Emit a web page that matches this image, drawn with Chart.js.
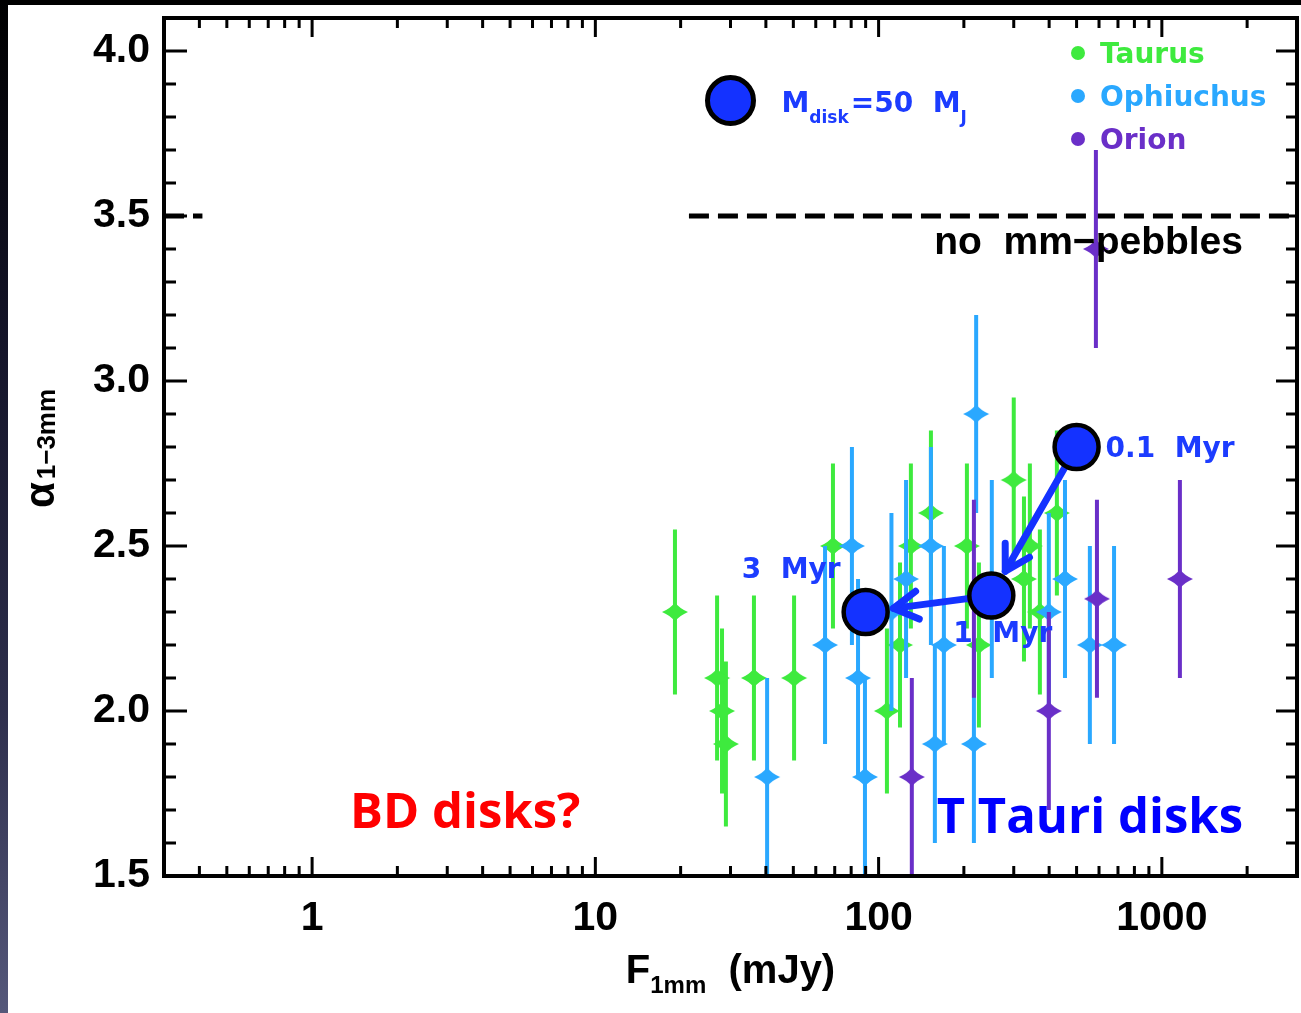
<!DOCTYPE html>
<html><head><meta charset="utf-8">
<script src="https://cdn.jsdelivr.net/npm/chart.js@4.4.0/dist/chart.umd.min.js"></script>
<style>
html,body{margin:0;padding:0;background:#fff;}
#wrap{position:relative;width:1301px;height:1013px;overflow:hidden;background:#fff;}
canvas{display:block;}
#topband{position:absolute;left:0;top:0;width:1301px;height:5px;background:#000;}
#leftband{position:absolute;left:0;top:0;width:8px;height:1013px;background:linear-gradient(#000 0%,#15152a 35%,#2e2f4c 70%,#55587a 100%);}
</style></head><body>
<div id="wrap"><canvas id="c" width="1301" height="1013"></canvas><div id="topband"></div><div id="leftband"></div></div>
<script>
// ---------- data ----------
const xTickValues = [1, 10, 100, 1000];
const yTickValues = [1.5, 2.0, 2.5, 3.0, 3.5, 4.0];

const taurusFlux  = [19.1, 26.9, 28.0, 28.9, 36.3, 50.3, 69.0, 107, 119, 130, 153, 205, 226, 300, 326, 342, 371, 426];
const taurusAlpha = [2.3, 2.1, 2.0, 1.9, 2.1, 2.1, 2.5, 2.0, 2.2, 2.5, 2.6, 2.5, 2.2, 2.7, 2.4, 2.5, 2.3, 2.6];
const taurusErr   = [0.25, 0.25, 0.25, 0.25, 0.25, 0.25, 0.25, 0.25, 0.25, 0.25, 0.25, 0.25, 0.25, 0.25, 0.25, 0.25, 0.25, 0.25];

const ophFlux  = [40.4, 64.7, 80.5, 84.6, 89.5, 111, 125, 153, 158, 170, 217, 221, 251, 399, 455, 557, 678];
const ophAlpha = [1.8, 2.2, 2.5, 2.1, 1.8, 2.3, 2.4, 2.5, 1.9, 2.2, 1.9, 2.9, 2.4, 2.3, 2.4, 2.2, 2.2];
const ophErr   = [0.3, 0.3, 0.3, 0.3, 0.3, 0.3, 0.3, 0.3, 0.3, 0.3, 0.3, 0.3, 0.3, 0.3, 0.3, 0.3, 0.3];

const orionFlux  = [131, 217, 399, 585, 590, 1158];
const orionAlpha = [1.8, 2.34, 2.0, 3.4, 2.34, 2.4];
const orionErr   = [0.3, 0.3, 0.3, 0.3, 0.3, 0.3];

const trackFlux  = [500, 250, 90];
const trackAlpha = [2.8, 2.35, 2.3];
const trackAges  = ['0.1  Myr', '1  Myr', '3  Myr'];

const refDiskFlux  = [30];
const refDiskAlpha = [3.85];

const pebbleLimit = 3.5;
const pebbleLineFlux = [0.3, 0.41, null, 21.4, 3000];

const regionNames = ['Taurus', 'Ophiuchus', 'Orion'];

// ---------- styles ----------
const GREEN = '#3eea3e', CYAN = '#2aa8ff', PURPLE = '#6a2fc8', MODEL = '#1432ff', MODELTXT = '#1c3cff';
const trackLabelOffsets = [ {dx: 29, dy: 0, align: 'left'}, {dx: -38, dy: 36, align: 'left'}, {dx: -25, dy: -44, align: 'right'} ];

function pts(xs, ys) { return xs.map((v, i) => ({x: v, y: ys[i]})); }

function makeStar(color) {
  const c = document.createElement('canvas');
  c.width = 28; c.height = 20;
  const g = c.getContext('2d');
  const cx = 14, cy = 10, rx = 13, ry = 9.5, k = 0.36;
  g.fillStyle = color;
  g.beginPath();
  g.moveTo(cx + rx, cy);
  g.quadraticCurveTo(cx + rx * k, cy + ry * k, cx, cy + ry);
  g.quadraticCurveTo(cx - rx * k, cy + ry * k, cx - rx, cy);
  g.quadraticCurveTo(cx - rx * k, cy - ry * k, cx, cy - ry);
  g.quadraticCurveTo(cx + rx * k, cy - ry * k, cx + rx, cy);
  g.closePath();
  g.fill();
  return c;
}

const decor = {
  id: 'decor',
  beforeDatasetDraw(chart, args) {
    const ds = chart.data.datasets[args.index];
    const {ctx, chartArea: a, scales: {x, y}} = chart;
    if (ds.errors) {
      ctx.save();
      ctx.beginPath(); ctx.rect(a.left, a.top, a.right - a.left, a.bottom - a.top); ctx.clip();
      ctx.strokeStyle = ds.barColor; ctx.lineWidth = 4; ctx.lineCap = 'butt';
      ds.data.forEach((p, i) => {
        const px = x.getPixelForValue(p.x);
        ctx.beginPath();
        ctx.moveTo(px, y.getPixelForValue(p.y - ds.errors[i]));
        ctx.lineTo(px, y.getPixelForValue(p.y + ds.errors[i]));
        ctx.stroke();
      });
      ctx.restore();
    }
    if (ds.isTrack) {
      const P = ds.data.map(p => ({x: x.getPixelForValue(p.x), y: y.getPixelForValue(p.y)}));
      ctx.save();
      ctx.strokeStyle = MODEL; ctx.lineWidth = 7; ctx.lineCap = 'round'; ctx.lineJoin = 'round';
      for (let i = 0; i < P.length - 1; i++) {
        const p0 = P[i], p1 = P[i + 1];
        const dx = p1.x - p0.x, dy = p1.y - p0.y, L = Math.hypot(dx, dy);
        const ux = dx / L, uy = dy / L;
        const sx = p0.x + ux * 20, sy = p0.y + uy * 20;
        const tx = p1.x - ux * 28, ty = p1.y - uy * 28;
        ctx.beginPath(); ctx.moveTo(sx, sy); ctx.lineTo(tx, ty); ctx.stroke();
        const back = Math.atan2(-uy, -ux), h = 28, ang = Math.PI / 6;
        ctx.beginPath();
        ctx.moveTo(tx + h * Math.cos(back + ang), ty + h * Math.sin(back + ang));
        ctx.lineTo(tx, ty);
        ctx.lineTo(tx + h * Math.cos(back - ang), ty + h * Math.sin(back - ang));
        ctx.stroke();
      }
      ctx.restore();
    }
  },
  afterDatasetsDraw(chart) {
    const {ctx, chartArea: a, scales: {x, y}} = chart;
    ctx.save();
    // frame
    ctx.strokeStyle = '#000'; ctx.lineWidth = 4; ctx.lineCap = 'square';
    ctx.strokeRect(a.left, a.top, a.right - a.left, a.bottom - a.top);
    ctx.lineWidth = 3; ctx.lineCap = 'butt';
    // y ticks
    for (let k = 15; k <= 41; k++) {
      const v = k / 10, py = y.getPixelForValue(v), major = k % 5 === 0;
      ctx.beginPath();
      ctx.moveTo(a.left, py); ctx.lineTo(a.left + (major ? 23 : 12), py);
      ctx.moveTo(a.right, py); ctx.lineTo(a.right - (major ? 21 : 11), py);
      ctx.stroke();
    }
    // x ticks
    for (let n = -1; n <= 3; n++) {
      for (let m = 1; m <= 9; m++) {
        const v = m * Math.pow(10, n);
        if (v < 0.3 || v > 3000) continue;
        const px = x.getPixelForValue(v), major = m === 1;
        ctx.beginPath();
        ctx.moveTo(px, a.bottom); ctx.lineTo(px, a.bottom - (major ? 19 : 10));
        ctx.moveTo(px, a.top); ctx.lineTo(px, a.top + (major ? 19 : 10));
        ctx.stroke();
      }
    }
    // legend (regions)
    const legColors = [GREEN, CYAN, PURPLE];
    ctx.font = 'bold 28px "DejaVu Sans"'; ctx.textBaseline = 'alphabetic'; ctx.textAlign = 'left';
    regionNames.forEach((name, i) => {
      const cy = a.top + 35 + i * 43;
      ctx.fillStyle = legColors[i];
      ctx.beginPath(); ctx.arc(a.right - 219, cy, 7, 0, Math.PI * 2); ctx.fill();
      ctx.fillText(name, a.right - 197, cy + 10);
    });
    // track labels
    ctx.fillStyle = MODELTXT;
    ctx.font = 'bold 28px "DejaVu Sans"';
    trackFlux.forEach((f, i) => {
      const px = x.getPixelForValue(f), py = y.getPixelForValue(trackAlpha[i]);
      const o = trackLabelOffsets[i];
      ctx.textAlign = o.align;
      ctx.fillText(trackAges[i], px + o.dx, py + o.dy + 10);
    });
    // reference disk label: M_disk=50 M_J
    {
      const px = x.getPixelForValue(refDiskFlux[0]) + 51, py = y.getPixelForValue(refDiskAlpha[0]);
      ctx.textAlign = 'left';
      let cx = px;
      const seg = [['M', 28, 11], ['disk', 17, 22], ['=50  ', 28, 11], ['M', 28, 11], ['J', 17, 22]];
      seg.forEach(([t, s, b]) => {
        ctx.font = 'bold ' + s + 'px "DejaVu Sans"';
        ctx.fillText(t, cx, py + b);
        cx += ctx.measureText(t).width + (s < 20 ? 2 : 0);
      });
    }
    // no mm-pebbles
    ctx.fillStyle = '#000'; ctx.textAlign = 'right';
    ctx.font = 'bold 39px "Liberation Sans"';
    ctx.fillText('no  mm\u2212pebbles', a.right - 54, y.getPixelForValue(pebbleLimit) + 38);
    // BD disks? / T Tauri disks
    ctx.font = 'bold 49px "Open Sans"';
    ctx.textAlign = 'left'; ctx.fillStyle = '#ff0000';
    ctx.fillText('BD disks?', a.left + 186, a.bottom - 48);
    ctx.textAlign = 'right'; ctx.fillStyle = '#0000ff';
    ctx.fillText('T Tauri disks', a.right - 54, a.bottom - 43);
    // x title
    ctx.fillStyle = '#000'; ctx.textAlign = 'left';
    {
      const parts = [['F', 40, 0], ['1mm', 24, 10], ['  (mJy)', 40, 0]];
      let w = 0;
      parts.forEach(([t, s]) => { ctx.font = 'bold ' + s + 'px "Liberation Sans"'; w += ctx.measureText(t).width; });
      let cx = (a.left + a.right) / 2 - w / 2;
      const base = 983;
      parts.forEach(([t, s, b]) => { ctx.font = 'bold ' + s + 'px "Liberation Sans"'; ctx.fillText(t, cx, base + b); cx += ctx.measureText(t).width; });
    }
    // y title (rotated)
    {
      ctx.translate(54, (a.top + a.bottom) / 2);
      ctx.rotate(-Math.PI / 2);
      const parts = [['\u03b1', 42, 0], ['1\u22123mm', 26, 1]];
      let w = 0;
      parts.forEach(([t, s]) => { ctx.font = 'bold ' + s + 'px "Liberation Sans"'; w += ctx.measureText(t).width + 3; });
      let cx = -w / 2;
      parts.forEach(([t, s, b]) => { ctx.font = 'bold ' + s + 'px "Liberation Sans"'; ctx.fillText(t, cx, b); cx += ctx.measureText(t).width + 3; });
    }
    ctx.restore();
  }
};

const tickFont = {family: 'Liberation Sans', size: 41, weight: 'bold'};

new Chart(document.getElementById('c'), {
  type: 'scatter',
  data: {
    datasets: [
      { label: 'tracks', data: pts(trackFlux, trackAlpha), isTrack: true, order: 0,
        pointRadius: 22, pointHoverRadius: 22, backgroundColor: MODEL, borderColor: '#000', borderWidth: 4.5 },
      { label: 'reference disk', data: pts(refDiskFlux, refDiskAlpha), order: 0,
        pointRadius: 23, pointHoverRadius: 23, backgroundColor: MODEL, borderColor: '#000', borderWidth: 5 },
      { label: 'Orion', data: pts(orionFlux, orionAlpha), errors: orionErr, barColor: PURPLE, order: 1,
        pointStyle: makeStar(PURPLE) },
      { label: 'Ophiuchus', data: pts(ophFlux, ophAlpha), errors: ophErr, barColor: CYAN, order: 2,
        pointStyle: makeStar(CYAN) },
      { label: 'Taurus', data: pts(taurusFlux, taurusAlpha), errors: taurusErr, barColor: GREEN, order: 3,
        pointStyle: makeStar(GREEN) },
      { type: 'line', label: 'no mm-pebbles', order: 4,
        data: pebbleLineFlux.map(f => f === null ? {x: 1, y: null} : {x: f, y: pebbleLimit}),
        borderColor: '#000', borderWidth: 5, borderDash: [20, 9], pointRadius: 0, spanGaps: false, fill: false }
    ]
  },
  options: {
    responsive: false,
    animation: false,
    devicePixelRatio: 1,
    layout: {autoPadding: false, padding: {left: 0, right: 4, top: 18, bottom: 0}},
    plugins: {legend: {display: false}, tooltip: {enabled: false}},
    scales: {
      x: {
        type: 'logarithmic', min: 0.3, max: 3000,
        afterBuildTicks: ax => { ax.ticks = xTickValues.map(v => ({value: v})); },
        afterFit: ax => { ax.height = 137; ax.paddingLeft = 0; ax.paddingRight = 0; ax.paddingTop = 0; ax.paddingBottom = 0; },
        grid: {display: false, drawTicks: false, tickLength: 0},
        border: {display: false},
        ticks: {autoSkip: false, maxRotation: 0, padding: 18, color: '#000', font: tickFont,
                callback: v => String(v)}
      },
      y: {
        type: 'linear', min: 1.5, max: 4.1,
        afterBuildTicks: ax => { ax.ticks = yTickValues.map(v => ({value: v})); },
        afterFit: ax => { ax.width = 164; ax.paddingLeft = 0; ax.paddingRight = 0; ax.paddingTop = 0; ax.paddingBottom = 0; },
        grid: {display: false, drawTicks: false, tickLength: 0},
        border: {display: false},
        ticks: {autoSkip: false, padding: 14, color: '#000', font: tickFont,
                callback: v => Number(v).toFixed(1)}
      }
    }
  },
  plugins: [decor]
});
</script>
</body></html>
